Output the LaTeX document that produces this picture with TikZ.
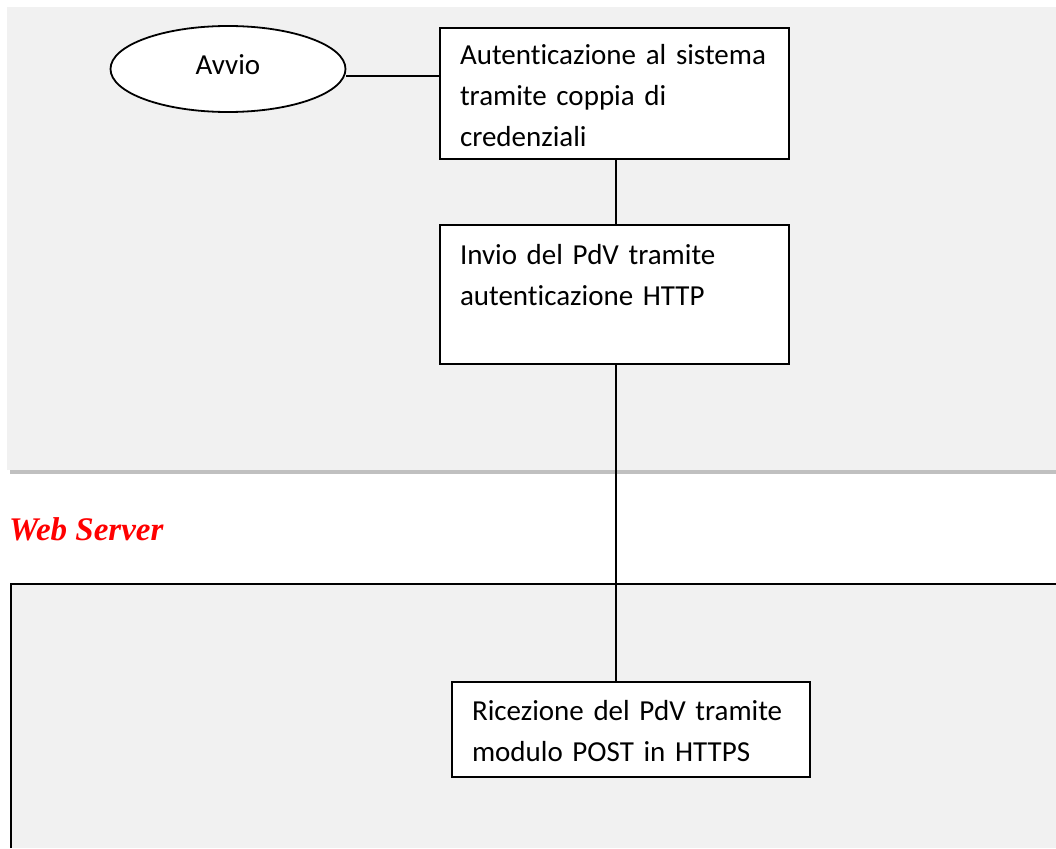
\documentclass[tikz,border=0pt]{standalone}
\usepackage{fontspec}
\usetikzlibrary{shapes.geometric}
\setmainfont{Carlito}[RawFeature=-liga, WordSpace=0.8]
\newfontfamily\serverfont{Liberation Serif}
\definecolor{panelgray}{HTML}{F1F1F1}
\definecolor{bandgray}{HTML}{C0C0C0}
\definecolor{titlered}{HTML}{FF0000}

\begin{document}
\begin{tikzpicture}
  [x=1pt,y=-1pt,
   every node/.style={font=\fontsize{29}{41}\selectfont, inner sep=0pt},
   stepbox/.style={rectangle, draw=black, line width=2pt, fill=white, anchor=north west, align=left, inner xsep=20pt, inner ysep=0pt},
   startnode/.style={ellipse, draw=black, line width=1.8pt, fill=white, minimum width=235pt, minimum height=86pt, text depth=8pt},
   link/.style={line width=1.6pt}]
  \useasboundingbox (0,0) rectangle (1056,848);
  % pannelli
  \fill[panelgray] (7,7) rectangle (1056,469.5);
  \fill[bandgray] (10,470) rectangle (1056,474);
  \fill[panelgray] (11,584) rectangle (1056,848);
  \draw[line width=2.4pt] (11,848) -- (11,584) -- (1056,584);
  \node[font=\serverfont\fontsize{33}{38}\selectfont\bfseries\itshape, text=titlered, anchor=base west] (ws) at (9,540) {Web Server};

  \node[startnode] (avvio) at (228,69) {Avvio};
  \node[stepbox, text width=309pt, text height=37pt, text depth=94pt] (auth) at (439,27) {Autenticazione al sistema\\tramite coppia di\\credenziali};
  \node[stepbox, text width=309pt, text height=39pt, text depth=100pt] (send) at (439,224) {Invio del PdV tramite\\autenticazione HTTP};
  \node[stepbox, text width=318pt, text height=38pt, text depth=57pt] (recv) at (451,681) {Ricezione del PdV tramite\\modulo POST in HTTPS};

  \draw[link] ([yshift=-7pt]avvio.east) -- ([yshift=-7pt]avvio.east -| auth.west);
  \foreach \from/\to in {auth/send,send/recv}
    \draw[link] ([xshift=1.5pt]\from.south) -- ([xshift=1.5pt]\from.south |- \to.north);
\end{tikzpicture}
\end{document}
